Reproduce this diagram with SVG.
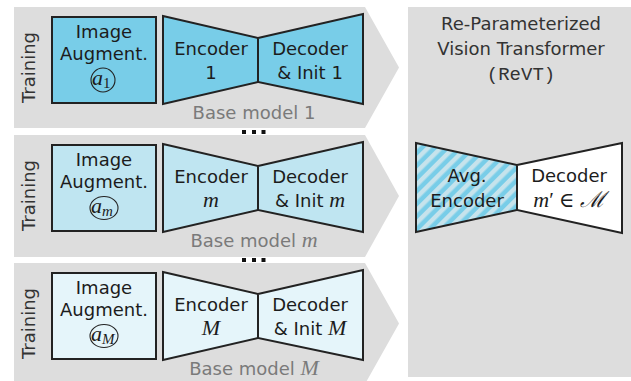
<svg xmlns="http://www.w3.org/2000/svg" width="631" height="381" viewBox="0 0 631 381">
  <style>
    .bg { fill: #dddddd; }
    .box { stroke: #222222; stroke-width: 2; stroke-linejoin: miter; }
    .t { font-family: "DejaVu Sans", "Liberation Sans", sans-serif; font-size: 18px; fill: #1c1c1c; text-anchor: middle; }
    .side { font-family: "DejaVu Sans", "Liberation Sans", sans-serif; font-size: 18px; fill: #333333; text-anchor: middle; }
    .cap { font-family: "DejaVu Sans", "Liberation Sans", sans-serif; font-size: 18px; fill: #7a7a7a; text-anchor: middle; }
    .title { font-family: "DejaVu Sans", "Liberation Sans", sans-serif; font-size: 18px; fill: #333333; text-anchor: middle; }
    .mono { font-family: "Liberation Mono", "DejaVu Sans Mono", monospace; font-size: 19px; fill: #333333; text-anchor: middle; }
    .mi { font-family: "Liberation Serif", "DejaVu Serif", serif; font-style: italic; font-size: 22px; }
    .rm { font-family: "Liberation Serif", "DejaVu Serif", serif; font-style: normal; }
    .ring { fill: none; stroke: #222222; stroke-width: 1.1; }
    .dot { fill: #111111; }
    .r1 { fill: #78cde8; }
    .r2 { fill: #bfe5f1; }
    .r3 { fill: #e5f5fa; }
  </style>
  <defs>
    <pattern id="hatch" patternUnits="userSpaceOnUse" width="9" height="9" patternTransform="rotate(45)">
      <rect width="9" height="9" fill="#78cde8"/>
      <rect width="4.5" height="9" fill="#c6e3ec"/>
    </pattern>
  </defs>

  <!-- chevron backgrounds for the three training rows and the ReVT panel -->
  <g id="backgrounds">
    <path class="bg" d="M14,7 H365 L399,67.5 L365,128 H14 Z"/>
    <path class="bg" d="M14,135 H365 L399,196 L365,257 H14 Z"/>
    <path class="bg" d="M14,263 H365 L399,323.5 L365,384 H14 Z"/>
    <rect class="bg" x="408" y="7" width="223" height="370"/>
  </g>

  <!-- row 1 -->
  <g id="row1">
    <text class="side" transform="translate(35,67.5) rotate(-90)">Training</text>
    <g id="aug1">
      <rect class="box r1" x="52" y="17" width="104" height="86"/>
      <text class="t" x="104" y="38">Image</text>
      <text class="t" x="104" y="60">Augment.</text>
      <circle class="ring" cx="103" cy="80" r="12"/>
      <text class="mi" x="92" y="85" fill="#1c1c1c">a<tspan class="rm" font-size="15" dy="3">1</tspan></text>
    </g>
    <g id="model1">
      <path class="box r1" d="M163,16 L258,38 L258,82 L163,104 Z"/>
      <path class="box r1" d="M258,38 L363,14 L363,104 L258,82 Z"/>
      <text class="t" x="211" y="55">Encoder</text>
      <text class="t" x="211" y="79">1</text>
      <text class="t" x="310" y="55">Decoder</text>
      <text class="t" x="310" y="79">&amp; Init 1</text>
      <text class="cap" x="254" y="119">Base model 1</text>
    </g>
  </g>

  <g id="dots1">
    <rect class="dot" x="242" y="130" width="4" height="4"/>
    <rect class="dot" x="252" y="130" width="4" height="4"/>
    <rect class="dot" x="261.5" y="130" width="4" height="4"/>
  </g>

  <!-- row m -->
  <g id="rowm">
    <text class="side" transform="translate(35,195.5) rotate(-90)">Training</text>
    <g id="augm">
      <rect class="box r2" x="52" y="145" width="104" height="86"/>
      <text class="t" x="104" y="166">Image</text>
      <text class="t" x="104" y="188">Augment.</text>
      <ellipse class="ring" cx="104" cy="208" rx="14" ry="11.5"/>
      <text class="mi" x="91" y="213" fill="#1c1c1c">a<tspan font-size="15" dy="3">m</tspan></text>
    </g>
    <g id="modelm">
      <path class="box r2" d="M163,144 L258,166 L258,210 L163,232 Z"/>
      <path class="box r2" d="M258,166 L363,142 L363,232 L258,210 Z"/>
      <text class="t" x="211" y="183">Encoder</text>
      <text class="mi" x="211" y="207" text-anchor="middle" fill="#1c1c1c">m</text>
      <text class="t" x="310" y="183">Decoder</text>
      <text class="t" x="310" y="207">&amp; Init <tspan class="mi">m</tspan></text>
      <text class="cap" x="254" y="247">Base model <tspan class="mi">m</tspan></text>
    </g>
  </g>

  <g id="dots2">
    <rect class="dot" x="242" y="258" width="4" height="4"/>
    <rect class="dot" x="252" y="258" width="4" height="4"/>
    <rect class="dot" x="261.5" y="258" width="4" height="4"/>
  </g>

  <!-- row M -->
  <g id="rowM">
    <text class="side" transform="translate(35,323.5) rotate(-90)">Training</text>
    <g id="augM">
      <rect class="box r3" x="52" y="273" width="104" height="86"/>
      <text class="t" x="104" y="294">Image</text>
      <text class="t" x="104" y="316">Augment.</text>
      <ellipse class="ring" cx="104" cy="336" rx="14" ry="11.5"/>
      <text class="mi" x="91" y="341" fill="#1c1c1c">a<tspan font-size="15" dy="3">M</tspan></text>
    </g>
    <g id="modelM">
      <path class="box r3" d="M163,272 L258,294 L258,338 L163,360 Z"/>
      <path class="box r3" d="M258,294 L363,270 L363,360 L258,338 Z"/>
      <text class="t" x="211" y="311">Encoder</text>
      <text class="mi" x="211" y="335" text-anchor="middle" fill="#1c1c1c">M</text>
      <text class="t" x="310" y="311">Decoder</text>
      <text class="t" x="310" y="335">&amp; Init <tspan class="mi">M</tspan></text>
      <text class="cap" x="254" y="375">Base model <tspan class="mi">M</tspan></text>
    </g>
  </g>

  <!-- re-parameterized model -->
  <g id="revt">
    <text class="title" x="521" y="30">Re-Parameterized</text>
    <text class="title" x="521" y="55">Vision Transformer</text>
    <text class="mono" x="521" y="80">(ReVT)</text>
    <g id="revt-model">
      <path class="box" fill="url(#hatch)" d="M416,143 L517,165 L517,210 L416,232 Z"/>
      <path class="box" fill="#ffffff" d="M517,165 L622,143 L622,233 L517,210 Z"/>
      <text class="t" x="467" y="182">Avg.</text>
      <text class="t" x="467" y="207">Encoder</text>
      <text class="t" x="569" y="182">Decoder</text>
      <text class="t" x="569" y="207"><tspan class="mi">m</tspan><tspan class="rm" font-size="21">′ ∈ </tspan><tspan class="mi">ℳ</tspan></text>
    </g>
  </g>
</svg>
